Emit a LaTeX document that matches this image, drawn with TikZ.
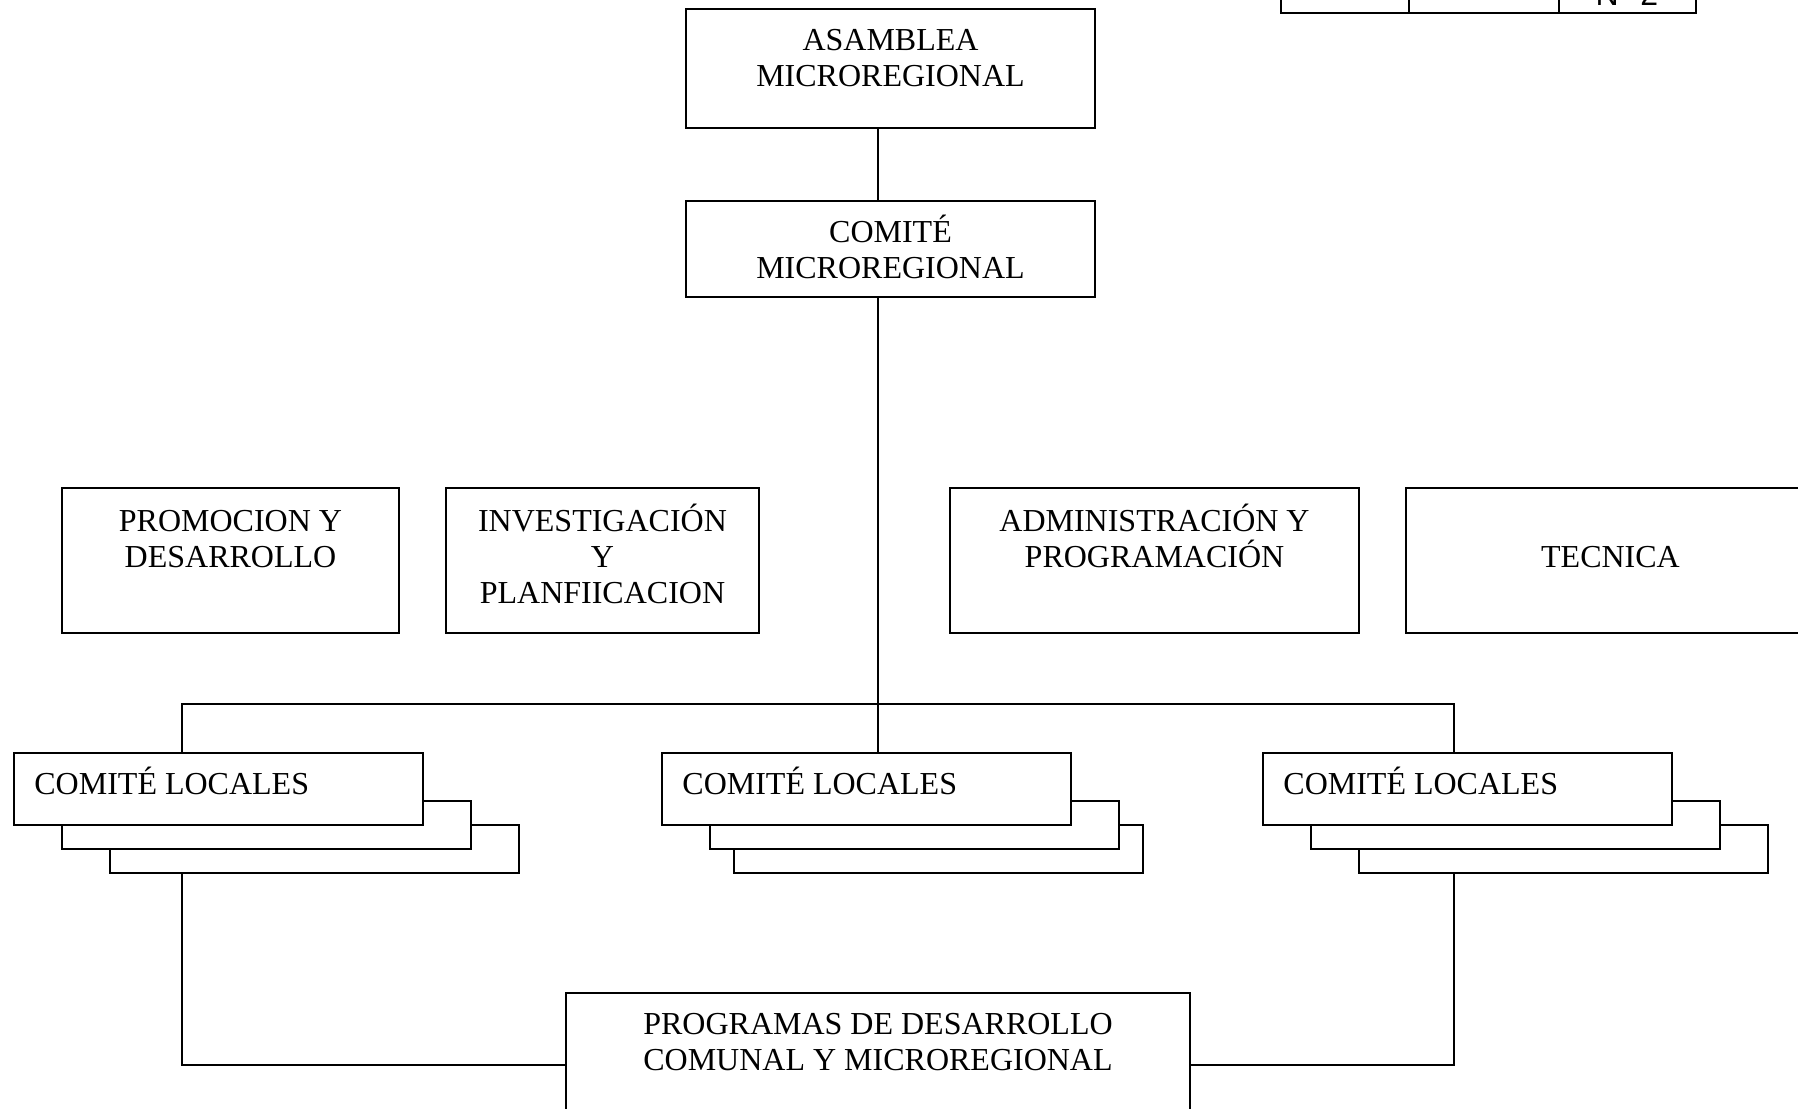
\documentclass[tikz,border=0pt]{standalone}
\usepackage{fontspec}
\setmainfont{Liberation Serif}
\newfontfamily\tabfont{Liberation Sans}
\usetikzlibrary{calc}
\tikzset{
  sz/.style 2 args={minimum width=#1*0.5pt, minimum height=#2*0.5pt},
  box/.style={draw, line width=1pt, fill=white, inner sep=0pt, rectangle},
  txt/.style={font=\fontsize{16}{18}\selectfont, inner sep=0pt, anchor=base},
  txtl/.style={txt, anchor=base west},
  link/.style={draw, line width=1pt},
}
\begin{document}
\begin{tikzpicture}[x=0.5pt, y=-0.5pt]
\useasboundingbox (0,0) rectangle (1798,1108);
\clip (0,0) rectangle (1798,1108);

% table fragment in the upper right corner
\node[box, line width=1.4pt, sz={415}{43}] (tbl) at (1488.5,-8.5) {};
\draw[line width=1.4pt] (1409,-30) -- (1409,13) (1559,-30) -- (1559,13);
\node[font=\tabfont\fontsize{16}{18}\selectfont, inner sep=0pt, anchor=base] (nro) at (1627,5) {N° 2};

% top of the hierarchy
\node[box, sz={409}{119}] (asam) at (890.5,68.5) {};
\node[txt] at ($(asam.north)+(0,42)$) {ASAMBLEA};
\node[txt] at ($(asam.north)+(0,78)$) {MICROREGIONAL};

\node[box, sz={409}{96}] (com) at (890.5,249) {};
\node[txt] at ($(com.north)+(0,42)$) {COMITÉ};
\node[txt] at ($(com.north)+(0,78)$) {MICROREGIONAL};

% support areas
\node[box, sz={337}{145}] (prom) at (230.5,560.5) {};
\node[txt] at ($(prom.north)+(0,44)$) {PROMOCION Y};
\node[txt] at ($(prom.north)+(0,80)$) {DESARROLLO};

\node[box, sz={313}{145}] (inv) at (602.5,560.5) {};
\node[txt] at ($(inv.north)+(0,44)$) {INVESTIGACIÓN};
\node[txt] at ($(inv.north)+(0,80)$) {Y};
\node[txt] at ($(inv.north)+(0,116)$) {PLANFIICACION};

\node[box, sz={409}{145}] (adm) at (1154.5,560.5) {};
\node[txt] at ($(adm.north)+(0,44)$) {ADMINISTRACIÓN Y};
\node[txt] at ($(adm.north)+(0,80)$) {PROGRAMACIÓN};

\node[box, sz={409}{145}] (tec) at (1610.5,560.5) {};
\node[txt] at ($(tec.north)+(0,80)$) {TECNICA};

% local committees (stacked sheets)
\node[box, sz={409}{48}] (c1c) at (314.5,849) {};
\node[box, sz={409}{48}] (c1b) at (266.5,825) {};
\node[box, sz={409}{72}] (c1)  at (218.5,789) {};
\node[txtl] at ($(c1.north west)+(21,42)$) {COMITÉ LOCALES};

\node[box, sz={409}{48}] (c2c) at (938.5,849) {};
\node[box, sz={409}{48}] (c2b) at (914.5,825) {};
\node[box, sz={409}{72}] (c2)  at (866.5,789) {};
\node[txtl] at ($(c2.north west)+(21,42)$) {COMITÉ LOCALES};

\node[box, sz={409}{48}] (c3c) at (1563.5,849) {};
\node[box, sz={409}{48}] (c3b) at (1515.5,825) {};
\node[box, sz={409}{72}] (c3)  at (1467.5,789) {};
\node[txtl] at ($(c3.north west)+(21,42)$) {COMITÉ LOCALES};

% programmes
\node[box, sz={624}{144}] (prog) at (878,1065) {};
\node[txt] at ($(prog.north)+(0,42)$) {PROGRAMAS DE DESARROLLO};
\node[txt] at ($(prog.north)+(0,78)$) {COMUNAL Y MICROREGIONAL};

% connectors
\coordinate (trunk) at (878,0);
\coordinate (bus) at (0,704);
\coordinate (lx) at (182,0);
\coordinate (rx) at (1454,0);
\path[link] (asam.south -| trunk) -- (com.north -| trunk);
\path[link] (com.south -| trunk) -- (c2.north -| trunk);
\path[link] (c1.north -| lx) -- (bus -| lx) -- (bus -| rx) -- (c3.north -| rx);
\path[link] (c1c.south -| lx) -- (prog.west -| lx) -- (prog.west);
\path[link] (c3c.south -| rx) -- (prog.east -| rx) -- (prog.east);
\end{tikzpicture}
\end{document}
